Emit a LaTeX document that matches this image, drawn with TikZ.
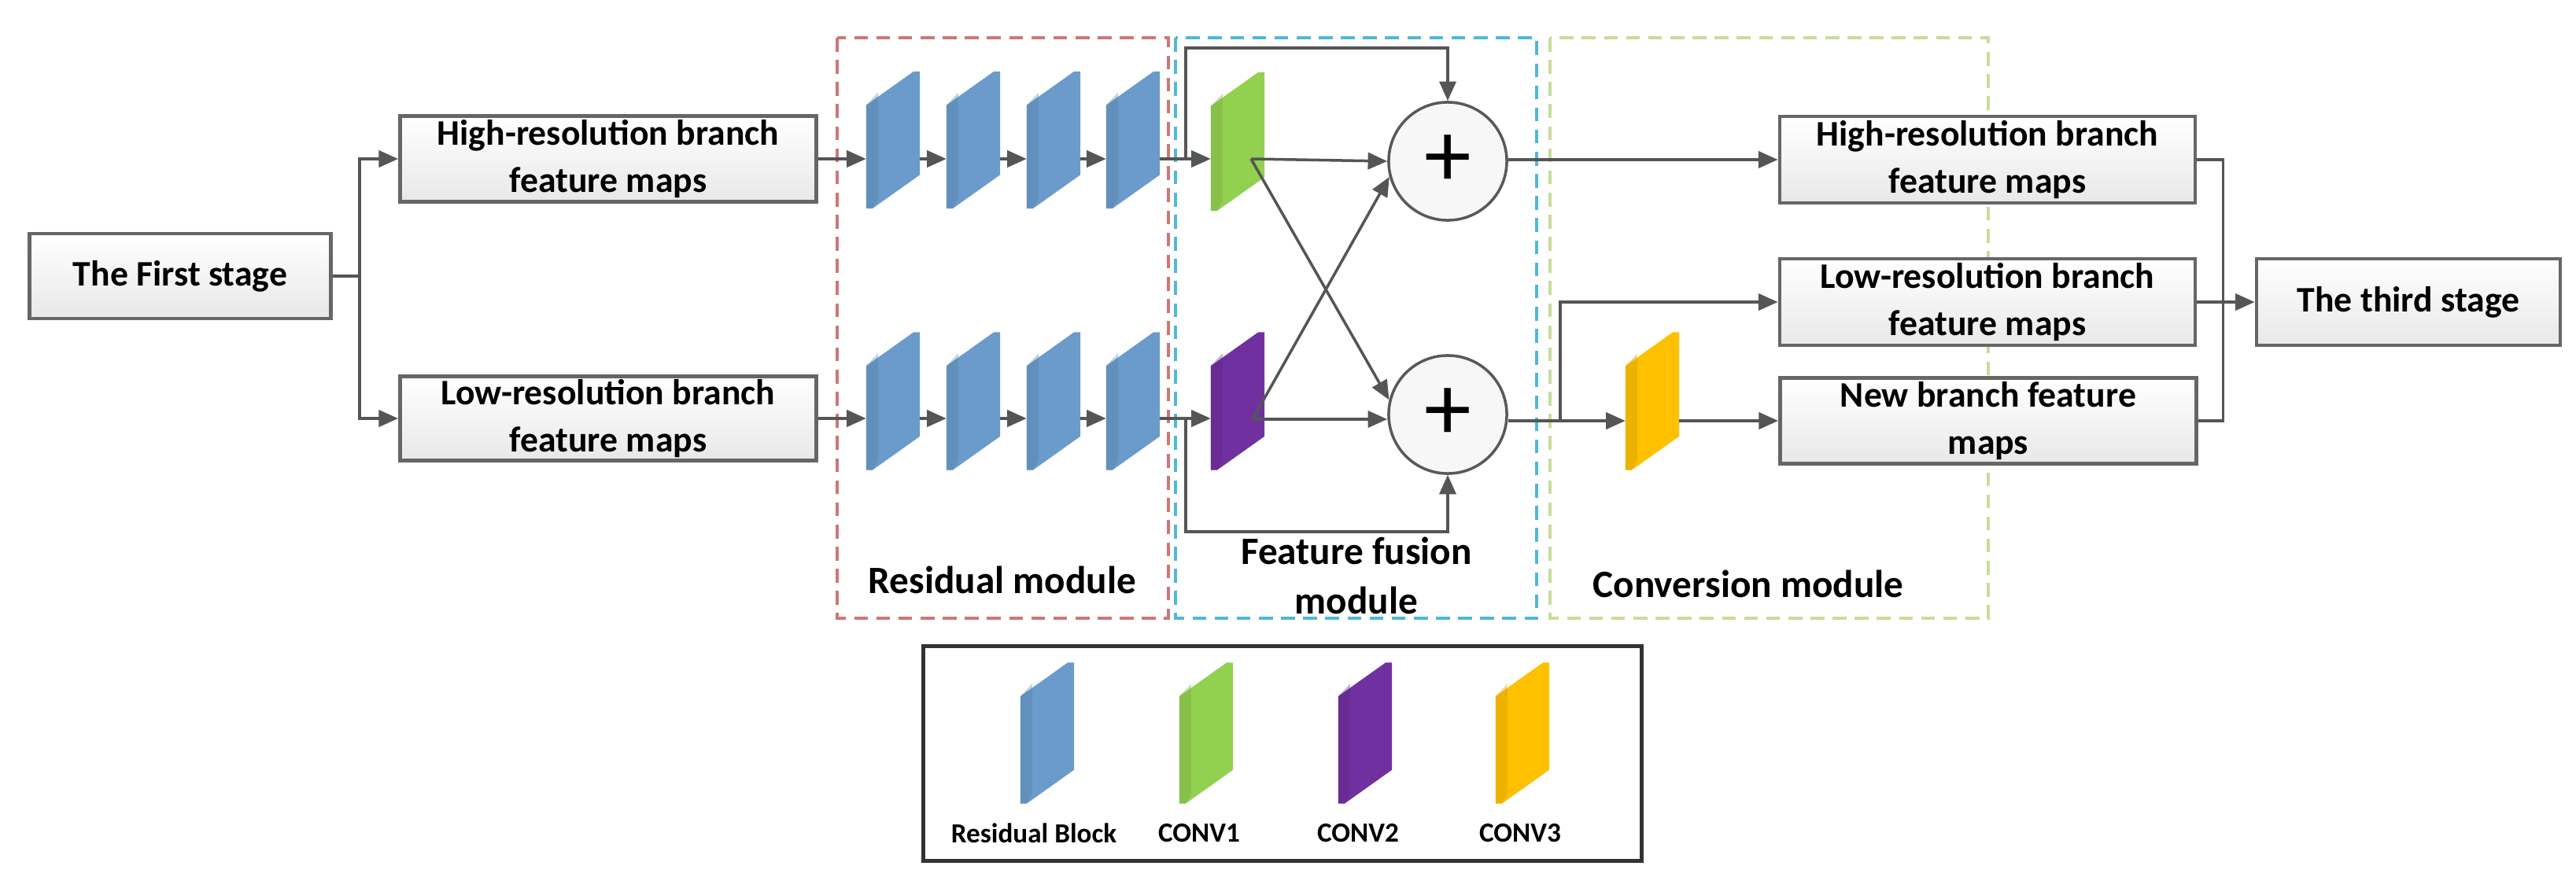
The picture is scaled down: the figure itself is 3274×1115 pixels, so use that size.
\documentclass[tikz,border=0pt]{standalone}
\usepackage{fontspec}
\setmainfont{Carlito}
\usetikzlibrary{calc,arrows.meta}
\definecolor{rbblue}{HTML}{6A9BCB}
\definecolor{cgreen}{HTML}{92D050}
\definecolor{cpurple}{HTML}{7030A0}
\definecolor{cyellow}{HTML}{FFC000}
\definecolor{lnc}{HTML}{555555}
\begin{document}
\begin{tikzpicture}[x=0.01cm,y=-0.01cm,
  box/.style={draw=gray!80!black,line width=1.3pt,top color=white,bottom color=gray!18,align=center,font=\bfseries\fontsize{13}{17}\selectfont,inner sep=0pt},
  arr/.style={draw=lnc,line width=1pt,-{Triangle[length=7pt,width=6pt]}},
  ln/.style={draw=lnc,line width=1pt},
  slabn/.style={inner sep=0pt,minimum width=0.67cm},
  dbox/.style={dash pattern=on 5pt off 3pt,line width=1.1pt},
  lab/.style={font=\bfseries\fontsize{14}{18}\selectfont,align=center},
  leg/.style={font=\bfseries\fontsize{10}{12}\selectfont}]
\useasboundingbox (0,0) rectangle (3274,1115);
\newcommand\slab[5]{%
 \node[slabn,minimum height=#4*0.01cm] (#1) at (#2,#3) {};
 \fill[#5] ($(#1.north west)+(0,43)$) -- ($(#1.north east)+(-8,0)$) -- (#1.north east) -- ($(#1.south east)+(0,-43)$) -- ($(#1.south west)+(8,0)$) -- (#1.south west) -- cycle;
 \fill[#5!80!black,opacity=0.35] ($(#1.north west)+(0,43)$) -- ($(#1.north west)+(15,27)$) -- ($(#1.south west)+(15,-12)$) -- ($(#1.south west)+(8,0)$) -- (#1.south west) -- cycle;
}
% dashed module frames
\draw[dbox,draw={rgb,255:red,204;green,120;blue,120}] (1064,48) rectangle (1485,786);
\draw[dbox,draw={rgb,255:red,80;green,184;blue,216}] (1494,48) rectangle (1953,786);
\draw[dbox,draw={rgb,255:red,200;green,220;blue,154}] (1970,48) rectangle (2527,786);
% boxes
\node[box,minimum width=3.83cm,minimum height=1.08cm] (first) at (229,351) {The First stage};
\node[box,minimum width=5.29cm,minimum height=1.09cm] (hi) at (773,202) {High-resolution branch\\feature maps};
\node[box,minimum width=5.29cm,minimum height=1.07cm] (lo) at (773,532) {Low-resolution branch\\feature maps};
\node[box,minimum width=5.28cm,minimum height=1.10cm] (rh) at (2526,203) {High-resolution branch\\feature maps};
\node[box,minimum width=5.28cm,minimum height=1.10cm] (rl) at (2526,384) {Low-resolution branch\\feature maps};
\node[box,minimum width=5.29cm,minimum height=1.09cm] (rn) at (2527,535) {New branch feature\\maps};
\node[box,minimum width=3.86cm,minimum height=1.10cm] (third) at (3061,384) {The third stage};
% slabs
\slab{b1}{1135}{178}{173}{rbblue}
\slab{b2}{1237}{178}{173}{rbblue}
\slab{b3}{1339}{178}{173}{rbblue}
\slab{b4}{1440}{178}{173}{rbblue}
\slab{d1}{1135}{510}{174}{rbblue}
\slab{d2}{1237}{510}{174}{rbblue}
\slab{d3}{1339}{510}{174}{rbblue}
\slab{d4}{1440}{510}{174}{rbblue}
\slab{g}{1573}{180}{175}{cgreen}
\slab{p}{1573}{510}{174}{cpurple}
\slab{y}{2100}{510}{174}{cyellow}
% circles
\node[circle,draw=gray!70!black,line width=1pt,fill=gray!6,minimum size=1.5cm,inner sep=0pt,font=\fontsize{34}{34}\selectfont] (c1) at (1840,205) {+};
\node[circle,draw=gray!70!black,line width=1pt,fill=gray!6,minimum size=1.5cm,inner sep=0pt,font=\fontsize{34}{34}\selectfont] (c2) at (1840,527) {+};
% first stage split
\draw[ln] (first.east) -- ++(34,0) coordinate (f);
\draw[arr] (f) |- (hi.west);
\draw[arr] (f) |- (lo.west);
% residual chains
\draw[arr] (hi.east) -- (hi.east -| b1.west);
\draw[arr] (b1.east |- hi.east) -- (hi.east -| b2.west);
\draw[arr] (b2.east |- hi.east) -- (hi.east -| b3.west);
\draw[arr] (b3.east |- hi.east) -- (hi.east -| b4.west);
\draw[arr] (b4.east |- hi.east) -- (hi.east -| g.west);
\draw[arr] (lo.east) -- (lo.east -| d1.west);
\draw[arr] (d1.east |- lo.east) -- (lo.east -| d2.west);
\draw[arr] (d2.east |- lo.east) -- (lo.east -| d3.west);
\draw[arr] (d3.east |- lo.east) -- (lo.east -| d4.west);
\draw[arr] (d4.east |- lo.east) -- (lo.east -| p.west);
% skip connections
\coordinate (j1) at (1507,202);
\coordinate (j2) at (1507,533);
\draw[arr] (j1) -- ++(0,-141) -| (c1.north);
\draw[arr] (j2) -- ++(0,143) -| (c2.south);
% fusion
\coordinate (gc) at (1590,202);
\coordinate (pc) at (1592,533);
\draw[arr] (gc) -- (c1.west);
\draw[arr] (gc) -- (c2.166);
\draw[arr] (pc) -- (c1.195);
\draw[arr] (pc) -- (c2.west |- pc);
% outputs
\draw[arr] (c1.east |- rh.west) -- (rh.west);
\draw[ln] (c2.east |- rn.west) -- (1983,535) coordinate (k);
\draw[arr] (k) -- (k -| y.west);
\draw[arr] (y.east |- rn.west) -- (rn.west);
\draw[arr] (k) |- (rl.west);
\draw[ln] (rh.east) -- ++(33,0) coordinate (m) |- (rn.east);
\draw[arr] (rl.east) -- (third.west);
% module labels
\node[lab] (lres) at (1274,737) {Residual module};
\node[lab] (lfus) at (1724,732) {Feature fusion\\module};
\node[lab] (lcon) at (2222,742) {Conversion module};
% legend
\node[draw=gray!40!black,line width=1.3pt,minimum width=9.12cm,minimum height=2.73cm,inner sep=0pt] (legend) at (1630,958) {};
\slab{l1}{1331}{932}{178}{rbblue}
\slab{l2}{1533}{932}{178}{cgreen}
\slab{l3}{1735}{932}{178}{cpurple}
\slab{l4}{1935}{932}{178}{cyellow}
\node[leg] (t1) at (1314,1059) {Residual Block};
\node[leg] (t2) at (1524,1059) {CONV1};
\node[leg] (t3) at (1726,1059) {CONV2};
\node[leg] (t4) at (1932,1059) {CONV3};
\end{tikzpicture}
\end{document}
